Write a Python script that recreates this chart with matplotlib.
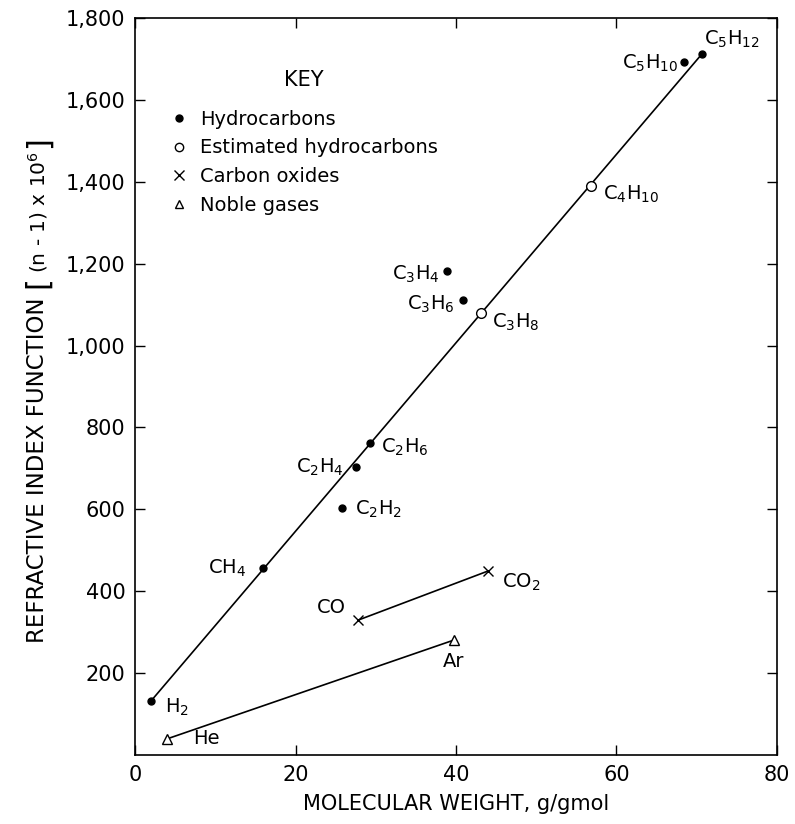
import numpy as np
import matplotlib
matplotlib.use("Agg")
import matplotlib.pyplot as plt
from matplotlib.lines import Line2D

plt.rcParams["font.family"] = ["DejaVu Sans"]
plt.rcParams["mathtext.default"] = "regular"

# hydrocarbons (measured), g/gmol vs (n-1)*1e6
hc_names = ["H2", "CH4", "C2H4", "C2H6", "C2H2", "C3H4", "C3H6", "C5H10", "C5H12"]
hc_mw = [2.0, 16.0, 27.6, 29.3, 25.8, 38.9, 40.9, 68.4, 70.7]
hc_rif = [132, 456, 702, 761, 603, 1183, 1112, 1693, 1713]

# estimated hydrocarbons
est_names = ["C3H8", "C4H10"]
est_mw = [43.1, 56.9]
est_rif = [1080, 1389]

# carbon oxides
co_names = ["CO", "CO2"]
co_mw = [27.8, 44.0]
co_rif = [329, 449]

# noble gases
ng_names = ["He", "Ar"]
ng_mw = [4.0, 39.7]
ng_rif = [39, 280]

# correlation line for hydrocarbons (drawn H2 -> C5H12)
line_mw = [2.0, 70.7]
line_rif = [132, 1713]

x_ticks = [0, 20, 40, 60, 80]
y_ticks = [200, 400, 600, 800, 1000, 1200, 1400, 1600, 1800]
y_tick_labels = ["200", "400", "600", "800", "1,000", "1,200", "1,400", "1,600", "1,800"]

labels = {
    "H2": ("$H_2$", (10, -5), "left"),
    "CH4": ("$CH_4$", (-12, 0), "right"),
    "C2H4": ("$C_2H_4$", (-9, 0), "right"),
    "C2H6": ("$C_2H_6$", (8, -3), "left"),
    "C2H2": ("$C_2H_2$", (9, -1), "left"),
    "C3H4": ("$C_3H_4$", (-5, -3), "right"),
    "C3H6": ("$C_3H_6$", (-6, -3), "right"),
    "C5H10": ("$C_5H_{10}$", (-4, -1), "right"),
    "C5H12": ("$C_5H_{12}$", (1, 10), "left"),
    "C3H8": ("$C_3H_8$", (8, -7), "left"),
    "C4H10": ("$C_4H_{10}$", (8, -6), "left"),
    "CO": ("CO", (-9, 9), "right"),
    "CO2": ("$CO_2$", (10, -8), "left"),
    "He": ("He", (19, 0), "left"),
    "Ar": ("Ar", (0, -15), "center"),
}

fig = plt.figure(figsize=(7.95, 8.24), dpi=100)
ax = fig.add_axes([0.170, 0.084, 0.807, 0.894])

ax.plot(line_mw, line_rif, color="black", lw=1.2, zorder=2)
ax.plot(co_mw, co_rif, color="black", lw=1.2, zorder=2)
ax.plot(ng_mw, ng_rif, color="black", lw=1.2, zorder=2)

ax.plot(hc_mw, hc_rif, "o", color="black", ms=5, ls="none", zorder=3)
ax.plot(est_mw, est_rif, "o", mfc="white", mec="black", mew=1.0, ms=7, ls="none", zorder=3)
ax.plot(co_mw, co_rif, "x", color="black", ms=7, mew=1.0, ls="none", zorder=3)
ax.plot(ng_mw, ng_rif, "^", mfc="white", mec="black", mew=1.0, ms=7, ls="none", zorder=3)

for names, xs, ys in [(hc_names, hc_mw, hc_rif), (est_names, est_mw, est_rif),
                      (co_names, co_mw, co_rif), (ng_names, ng_mw, ng_rif)]:
    for n, x, y in zip(names, xs, ys):
        txt, off, ha = labels[n]
        ax.annotate(txt, (x, y), xytext=off, textcoords="offset points",
                    ha=ha, va="center", fontsize=14)

ax.set_xlim(0, 80)
ax.set_ylim(0, 1800)
ax.set_xticks(x_ticks)
ax.set_yticks(y_ticks)
ax.set_yticklabels(y_tick_labels)
ax.tick_params(direction="in", length=7, width=1, top=True, right=True,
               labelsize=15, pad=7)
for s in ax.spines.values():
    s.set_linewidth(1.2)

ax.set_xlabel("MOLECULAR WEIGHT, g/gmol", fontsize=15, labelpad=7)

# y label built from pieces so the brackets can be tall
ylab = fig.text(38 / 795, 1 - 643 / 824, "REFRACTIVE INDEX FUNCTION", rotation=90,
                ha="center", va="bottom", fontsize=16.5)
lb = ax.annotate("[", xy=(0.5, 1), xycoords=ylab, xytext=(0, 7), textcoords="offset points",
                 rotation=90, ha="center", va="bottom", fontsize=22)
mid = ax.annotate("(n - 1) x 10$^{6}$", xy=(0.5, 1), xycoords=lb, xytext=(0, 2),
                  textcoords="offset points", rotation=90, ha="center", va="bottom",
                  fontsize=14.5)
ax.annotate("]", xy=(0.5, 1), xycoords=mid, xytext=(0, 2), textcoords="offset points",
            rotation=90, ha="center", va="bottom", fontsize=22)

handles = [
    Line2D([], [], marker="o", color="black", ms=5, ls="none"),
    Line2D([], [], marker="o", mfc="white", mec="black", ms=6, ls="none"),
    Line2D([], [], marker="x", color="black", ms=7, ls="none"),
    Line2D([], [], marker="^", mfc="white", mec="black", ms=6, ls="none"),
]
leg = ax.legend(handles, ["Hydrocarbons", "Estimated hydrocarbons", "Carbon oxides", "Noble gases"],
                title="KEY", loc="upper left", bbox_to_anchor=(0.026, 0.953), frameon=False,
                fontsize=14, title_fontsize=15, handlelength=1, handletextpad=0.6,
                labelspacing=0.5)
leg._legend_box.sep = 14

fig.savefig("out.png", dpi=100)
